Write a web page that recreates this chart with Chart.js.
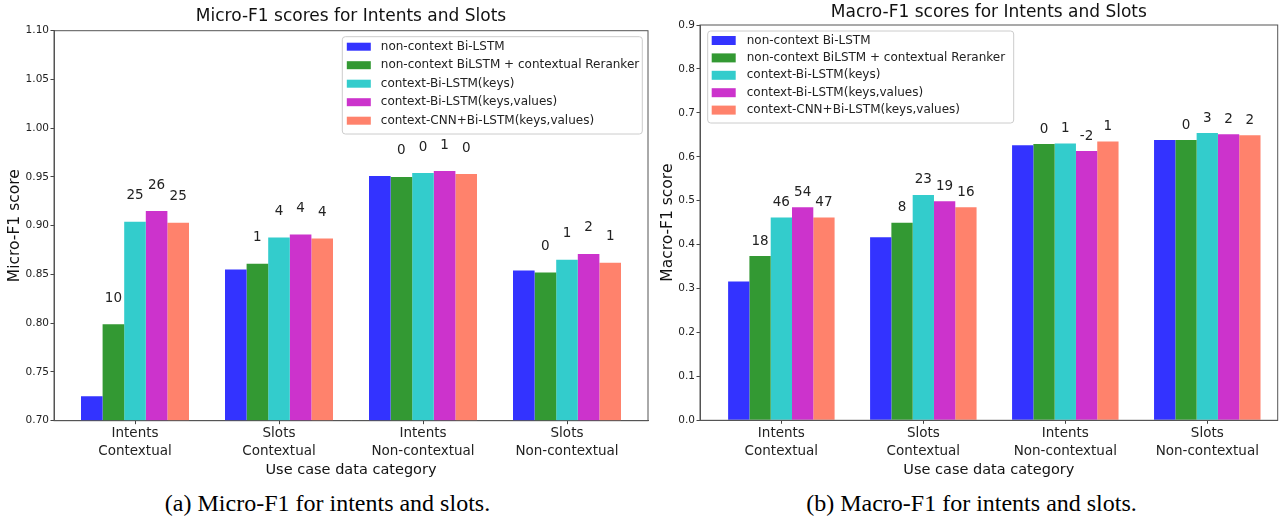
<!DOCTYPE html>
<html>
<head>
<meta charset="utf-8">
<script src="https://cdn.jsdelivr.net/npm/chart.js@4.4.1/dist/chart.umd.min.js"></script>
<style>
  html, body { margin: 0; padding: 0; background: #fff; }
  #wrap { position: relative; width: 1288px; height: 517px; overflow: hidden; }
  canvas { position: absolute; top: 0; }
  #microChart { left: 0; }
  #macroChart { left: 655px; }
  .caption { position: absolute; top: 489px; font-family: 'Liberation Serif', 'Times New Roman', serif; font-size: 24px; line-height: 28px; text-align: center; color: #000; }
</style>
</head>
<body>
<div id="wrap">
  <canvas id="microChart" width="655" height="485"></canvas>
  <canvas id="macroChart" width="633" height="485"></canvas>
  <div class="caption" style="left:0;width:655px">(a) Micro-F1 for intents and slots.</div>
  <div class="caption" style="left:655px;width:633px">(b) Macro-F1 for intents and slots.</div>
</div>
<script>
const categories = [['Intents', 'Contextual'], ['Slots', 'Contextual'], ['Intents', 'Non-contextual'], ['Slots', 'Non-contextual']];
const seriesNames = ['non-context Bi-LSTM', 'non-context BiLSTM + contextual Reranker', 'context-Bi-LSTM(keys)', 'context-Bi-LSTM(keys,values)', 'context-CNN+Bi-LSTM(keys,values)'];
const seriesColors = ['#3333ff', '#339933', '#33cccc', '#cc33cc', '#ff826c'];

// Micro-F1
const microBiLstm     = [0.725, 0.855, 0.951, 0.854];
const microReranker   = [0.799, 0.861, 0.950, 0.852];
const microKeys       = [0.904, 0.888, 0.954, 0.865];
const microKeysValues = [0.915, 0.891, 0.956, 0.871];
const microCnn        = [0.903, 0.887, 0.953, 0.862];
// % gain over non-context Bi-LSTM, printed above bars
const microGainReranker   = [10, 1, 0, 0];
const microGainKeys       = [25, 4, 0, 1];
const microGainKeysValues = [26, 4, 1, 2];
const microGainCnn        = [25, 4, 0, 1];
const microTicks = [0.70, 0.75, 0.80, 0.85, 0.90, 0.95, 1.00, 1.05, 1.10];

// Macro-F1
const macroBiLstm     = [0.316, 0.417, 0.626, 0.638];
const macroReranker   = [0.374, 0.450, 0.629, 0.638];
const macroKeys       = [0.462, 0.513, 0.630, 0.654];
const macroKeysValues = [0.485, 0.499, 0.613, 0.651];
const macroCnn        = [0.462, 0.485, 0.635, 0.649];
const macroGainReranker   = [18, 8, 0, 0];
const macroGainKeys       = [46, 23, 1, 3];
const macroGainKeysValues = [54, 19, -2, 2];
const macroGainCnn        = [47, 16, 1, 2];
const macroTicks = [0.0, 0.1, 0.2, 0.3, 0.4, 0.5, 0.6, 0.7, 0.8, 0.9];

Chart.defaults.font.family = '"DejaVu Sans", sans-serif';

// top + right spines
const frame = {
  id: 'frame',
  afterDatasetsDraw(chart) {
    const a = chart.chartArea, c = chart.ctx;
    c.save();
    c.strokeStyle = '#555';
    c.lineWidth = 1;
    c.strokeRect(a.left, a.top, a.right - a.left, a.bottom - a.top);
    c.restore();
  }
};

const gainLabels = {
  id: 'gainLabels',
  afterDatasetsDraw(chart, args, opts) {
    const c = chart.ctx;
    c.save();
    c.font = '13.5px "DejaVu Sans"';
    c.fillStyle = '#222';
    c.textAlign = 'center';
    c.textBaseline = 'middle';
    chart.data.datasets.forEach((ds, i) => {
      if (!ds.gains) return;
      chart.getDatasetMeta(i).data.forEach((bar, j) => {
        c.fillText(String(ds.gains[j]), bar.x, bar.y - opts.offset);
      });
    });
    c.restore();
  }
};

// matplotlib-style legend inside the axes
const boxLegend = {
  id: 'boxLegend',
  afterDraw(chart, args, o) {
    const c = chart.ctx;
    c.save();
    c.fillStyle = 'rgba(255,255,255,0.8)';
    c.strokeStyle = '#ccc';
    c.lineWidth = 1;
    c.beginPath();
    c.roundRect(o.x, o.y, o.w, o.h, 3);
    c.fill();
    c.stroke();
    c.font = '12px "DejaVu Sans"';
    c.textBaseline = 'middle';
    chart.data.datasets.forEach((ds, i) => {
      const y = o.row0 + i * o.rowGap;
      c.fillStyle = ds.backgroundColor;
      c.fillRect(o.x + o.patchX, y - o.patchH / 2, 24, o.patchH);
      c.fillStyle = '#222';
      c.fillText(ds.label, o.x + o.textX, y);
    });
    c.restore();
  }
};

function buildDatasets(series, gains) {
  return series.map((vals, k) => ({
    label: seriesNames[k],
    backgroundColor: seriesColors[k],
    borderWidth: 0,
    data: vals.map((v, i) => ({ x: i, y: v })),
    gains: gains[k]
  }));
}

const microChart = new Chart(document.getElementById('microChart'), {
  type: 'bar',
  data: {
    datasets: buildDatasets(
      [microBiLstm, microReranker, microKeys, microKeysValues, microCnn],
      [null, microGainReranker, microGainKeys, microGainKeysValues, microGainCnn])
  },
  options: {
    responsive: false,
    animation: false,
    categoryPercentage: 0.75,
    barPercentage: 1.0,
    layout: { padding: { left: 0, right: 7, top: 0, bottom: 0 } },
    scales: {
      x: {
        type: 'linear', min: -0.5625, max: 3.5625, offset: false,
        afterBuildTicks: s => { s.ticks = categories.map((c, i) => ({ value: i })); },
        afterFit: s => { s.height = 64.3; },
        grid: { offset: false, drawOnChartArea: false, tickLength: 3.5, color: '#444' },
        border: { color: '#555' },
        ticks: { autoSkip: false, maxRotation: 0, padding: 1, color: '#222', font: { size: 13.5, lineHeight: 1.3 }, callback: v => categories[v] },
        title: { display: true, text: 'Use case data category', color: '#111', font: { size: 14.5 }, padding: { top: 0, bottom: 6 } }
      },
      y: {
        min: 0.7, max: 1.1,
        afterBuildTicks: s => { s.ticks = microTicks.map(v => ({ value: v })); },
        afterFit: s => { s.width = 54; },
        grid: { drawOnChartArea: false, tickLength: 3.5, color: '#444' },
        border: { color: '#555' },
        ticks: { padding: 1.5, color: '#222', font: { size: 10.5 }, callback: v => v.toFixed(2) },
        title: { display: true, text: 'Micro-F1 score', color: '#111', font: { size: 15.5 }, padding: { top: 5.7, bottom: 0 } }
      }
    },
    plugins: {
      legend: { display: false },
      tooltip: { enabled: false },
      title: {
        display: true, fullSize: false, text: 'Micro-F1 scores for Intents and Slots', color: '#111',
        font: { size: 17, weight: 'normal' }, padding: { top: 6.8, bottom: 3.5 }
      },
      gainLabels: { offset: 26 },
      boxLegend: { x: 342.3, y: 36.7, w: 300, h: 97.3, row0: 46.7, rowGap: 18.5, patchH: 8, patchX: 4.5, textX: 38.5 }
    }
  },
  plugins: [frame, gainLabels, boxLegend]
});

const macroChart = new Chart(document.getElementById('macroChart'), {
  type: 'bar',
  data: {
    datasets: buildDatasets(
      [macroBiLstm, macroReranker, macroKeys, macroKeysValues, macroCnn],
      [null, macroGainReranker, macroGainKeys, macroGainKeysValues, macroGainCnn])
  },
  options: {
    responsive: false,
    animation: false,
    categoryPercentage: 0.75,
    barPercentage: 1.0,
    layout: { padding: { left: 0, right: 10.3, top: 0, bottom: 0 } },
    scales: {
      x: {
        type: 'linear', min: -0.573, max: 3.496, offset: false,
        afterBuildTicks: s => { s.ticks = categories.map((c, i) => ({ value: i })); },
        afterFit: s => { s.height = 64.7; },
        grid: { offset: false, drawOnChartArea: false, tickLength: 3.5, color: '#444' },
        border: { color: '#555' },
        ticks: { autoSkip: false, maxRotation: 0, padding: 1, color: '#222', font: { size: 13.5, lineHeight: 1.3 }, callback: v => categories[v] },
        title: { display: true, text: 'Use case data category', color: '#111', font: { size: 14.5 }, padding: { top: 0, bottom: 6 } }
      },
      y: {
        min: 0, max: 0.9,
        afterBuildTicks: s => { s.ticks = macroTicks.map(v => ({ value: v })); },
        afterFit: s => { s.width = 45; },
        grid: { drawOnChartArea: false, tickLength: 3.5, color: '#444' },
        border: { color: '#555' },
        ticks: { padding: 1.5, color: '#222', font: { size: 10.5 }, callback: v => v.toFixed(1) },
        title: { display: true, text: 'Macro-F1 score', color: '#111', font: { size: 15.5 }, padding: { top: 3.7, bottom: 0 } }
      }
    },
    plugins: {
      legend: { display: false },
      tooltip: { enabled: false },
      title: {
        display: true, fullSize: false, text: 'Macro-F1 scores for Intents and Slots', color: '#111',
        font: { size: 17, weight: 'normal' }, padding: { top: 2.8, bottom: 1.8 }
      },
      gainLabels: { offset: 15 },
      boxLegend: { x: 52.7, y: 31, w: 306, h: 92, row0: 40.5, rowGap: 17.4, patchH: 9, patchX: 4, textX: 39 }
    }
  },
  plugins: [frame, gainLabels, boxLegend]
});
</script>
</body>
</html>
